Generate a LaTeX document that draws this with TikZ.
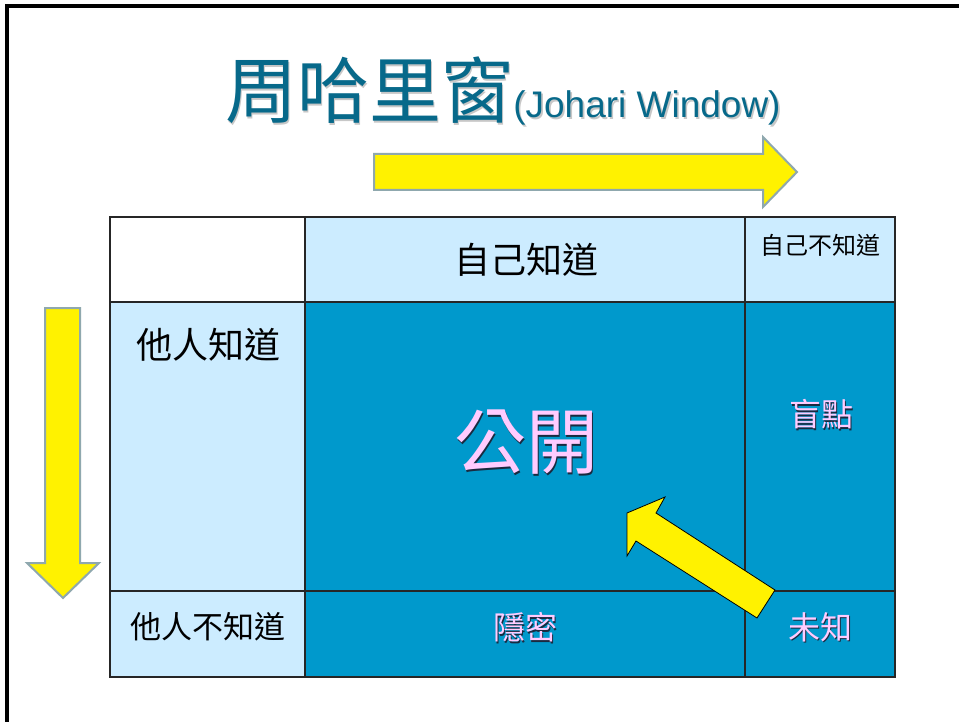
\documentclass[tikz,border=0pt]{standalone}
\usepackage{fontspec}
\usepackage{tikz}
\setmainfont{Liberation Sans}
\newfontfamily\cjk{Noto Sans CJK TC}
\definecolor{titleblue}{HTML}{07698A}
\definecolor{paleblue}{HTML}{CCECFF}
\definecolor{deepblue}{HTML}{0099CC}
\definecolor{pinktext}{HTML}{FFCCFF}
\definecolor{arrowgray}{HTML}{8FA8AE}
\definecolor{shadenavy}{HTML}{1A2A40}
\newcommand\shadowed[2]{\rlap{\kern1.6pt\raisebox{-1.6pt}{\textcolor{#1}{#2}}}#2}

\begin{document}
\begin{tikzpicture}[x=1pt, y=-1pt,
  cell/.style={draw=black!85, line width=1.2pt},
  bigarrow/.style={fill=yellow, draw=arrowgray, line width=2pt},
  blacktext/.style={font=\cjk\fontsize{#1}{#1}\selectfont, inner sep=0pt},
  pinklabel/.style={font=\cjk\fontsize{#1}{#1}\selectfont, text=pinktext, inner sep=0pt}]
 \useasboundingbox (0,0) rectangle (959,722);
 \fill[white] (0,0) rectangle (959,722);
 \draw[line width=3.4pt] (7,722) -- (7,6) -- (959,6);

 \node[anchor=base, text=titleblue, inner sep=0pt] (title) at (503,118)
  {\shadowed{black!22}{{\cjk\fontsize{72}{80}\selectfont 周哈里窗}{\fontsize{37}{40}\selectfont(Johari Window)}}};

 \fill[paleblue] (305,217) rectangle (895,302);
 \fill[paleblue] (110,302) rectangle (305,677);
 \fill[deepblue] (305,302) rectangle (895,677);
 \draw[cell] (110,217) rectangle (895,677);
 \draw[cell] (305,217) -- (305,677);
 \draw[cell] (745,217) -- (745,677);
 \draw[cell] (110,302) -- (895,302);
 \draw[cell] (110,591) -- (895,591);

 \draw[bigarrow] (374,154) -- (763,154) -- (763,137) -- (797,172) -- (763,207) -- (763,190) -- (374,190) -- cycle;
 \draw[bigarrow] (45,308) -- (80,308) -- (80,563) -- (99,563) -- (63,598) -- (27,563) -- (45,563) -- cycle;
 \draw[fill=yellow, draw=black, line width=0.8pt] (775,590) -- (656,513) -- (665,497) -- (627,513) -- (627,556) -- (636,541) -- (757,618) -- cycle;

 \node[blacktext=36] (knownself) at (526,260) {自己知道};
 \node[blacktext=24] (unknownself) at (820,245) {自己不知道};
 \node[blacktext=36] (knownothers) at (208,345) {他人知道};
 \node[blacktext=31] (unknownothers) at (208,627) {他人不知道};
 \node[pinklabel=72] (open) at (526,443) {\shadowed{shadenavy}{公開}};
 \node[pinklabel=32] (blind) at (821,415) {\shadowed{shadenavy}{盲點}};
 \node[pinklabel=32] (hidden) at (525,628) {\shadowed{shadenavy}{隱密}};
 \node[pinklabel=32] (unknown) at (820,628) {\shadowed{shadenavy}{未知}};
\end{tikzpicture}
\end{document}
